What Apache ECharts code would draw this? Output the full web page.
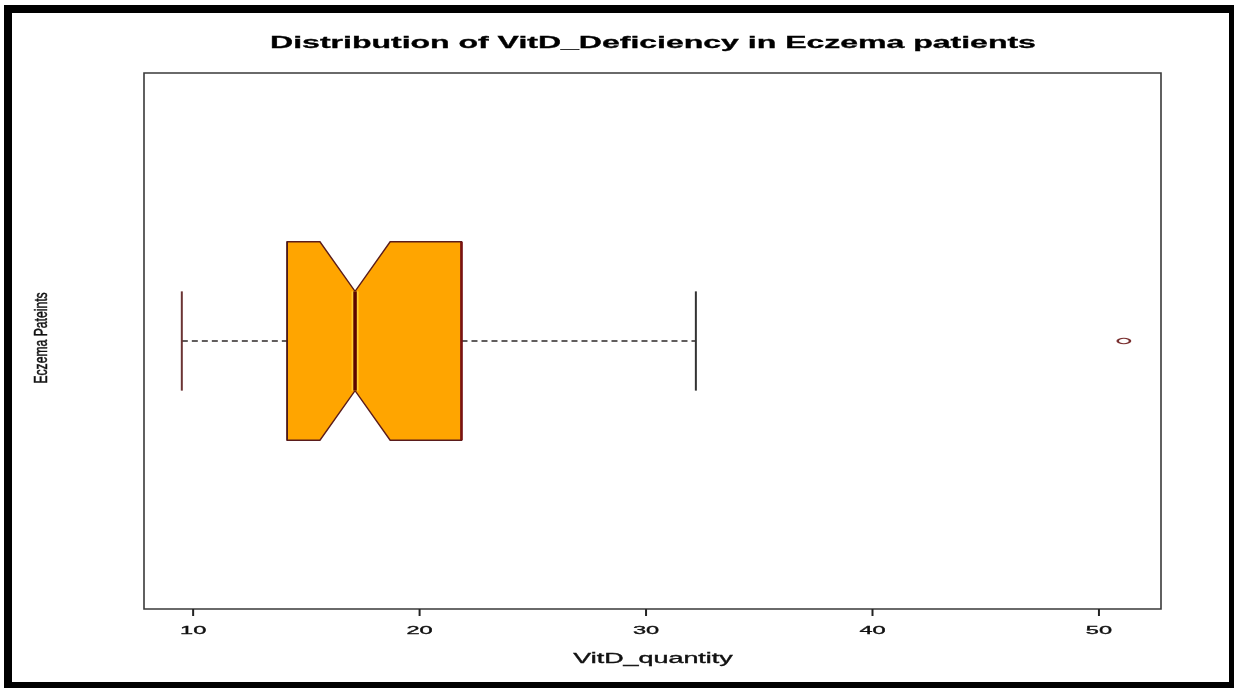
<!DOCTYPE html>
<html>
<head>
<meta charset="utf-8">
<title>Distribution of VitD_Deficiency in Eczema patients</title>
<script src="https://cdn.jsdelivr.net/npm/echarts@6/dist/echarts.min.js"></script>
<style>
  html, body { margin: 0; padding: 0; background: #ffffff; }
  #main { width: 1234px; height: 688px; }
</style>
</head>
<body>
<div id="main"></div>
<script>
// ---- data ----
const categories = ['Eczema Pateints'];
// five-number summary: lower whisker, Q1, median, Q3, upper whisker
const boxLow = [9.5];
const boxQ1 = [14.15];
const boxMedian = [17.15];
const boxQ3 = [21.85];
const boxHigh = [32.2];
// notch bounds around the median
const notchLow = [15.6];
const notchHigh = [18.7];
// values beyond the whiskers
const outlierValues = [51.1];
// x-axis tick labels
const tickValues = [10, 20, 30, 40, 50];

const titleText = 'Distribution of VitD_Deficiency in Eczema patients';
const xName = 'VitD_quantity';

// ---- build series data ----
const boxData = categories.map((c, i) => [i + 1, boxLow[i], boxQ1[i], notchLow[i], boxMedian[i], notchHigh[i], boxQ3[i], boxHigh[i]]);
const outlierData = outlierValues.map(v => [v, 1]);
const tickData = tickValues.map(v => [v]);

const BOX_HALF = 0.2, NOTCH_HALF = 0.1, CAP_HALF = 0.1;
const Y_MIN = 0.46, Y_MAX = 1.54;

function renderBox(params, api) {
  const y = api.value(0);
  const lo = api.value(1), q1 = api.value(2), nLo = api.value(3), med = api.value(4),
        nHi = api.value(5), q3 = api.value(6), hi = api.value(7);
  const c = (v, dy) => api.coord([v, y + dy]);
  const poly = [
    c(q1, -BOX_HALF), c(nLo, -BOX_HALF), c(med, -NOTCH_HALF), c(nHi, -BOX_HALF), c(q3, -BOX_HALF),
    c(q3, BOX_HALF), c(nHi, BOX_HALF), c(med, NOTCH_HALF), c(nLo, BOX_HALF), c(q1, BOX_HALF)
  ];
  const line = (a, b, style) => ({ type: 'line', shape: { x1: a[0], y1: a[1], x2: b[0], y2: b[1] }, style: style });
  const dashStyle = { stroke: '#2e2828', lineWidth: 1.3, lineDash: [6, 4] };
  return {
    type: 'group',
    children: [
      line(c(lo, 0), c(q1, 0), dashStyle),
      line(c(q3, 0), c(hi, 0), dashStyle),
      line(c(lo, -CAP_HALF), c(lo, CAP_HALF), { stroke: '#6b3434', lineWidth: 2 }),
      line(c(hi, -CAP_HALF), c(hi, CAP_HALF), { stroke: '#333333', lineWidth: 2 }),
      { type: 'polygon', shape: { points: poly }, style: { fill: '#FFA500', stroke: '#5a1c1c', lineWidth: 1.4 } },
      line(c(q1, -BOX_HALF), c(q1, BOX_HALF), { stroke: '#4a1a1a', lineWidth: 1.6 }),
      line(c(q3, -BOX_HALF), c(q3, BOX_HALF), { stroke: '#7a1212', lineWidth: 2.6 }),
      line(c(med, -NOTCH_HALF), c(med, NOTCH_HALF), { stroke: '#ffcf33', lineWidth: 7 }),
      line(c(med, -NOTCH_HALF), c(med, NOTCH_HALF), { stroke: '#5a0500', lineWidth: 3.5 })
    ]
  };
}

function renderOutlier(params, api) {
  const p = api.coord([api.value(0), api.value(1)]);
  return {
    type: 'circle', x: p[0], y: p[1], scaleX: 2.3,
    shape: { cx: 0, cy: 0, r: 2.7 },
    style: { fill: 'none', stroke: '#7a3030', lineWidth: 1.1 }
  };
}

function renderTick(params, api) {
  const p = api.coord([api.value(0), Y_MIN]);
  return {
    type: 'group',
    children: [
      { type: 'line', shape: { x1: p[0], y1: p[1], x2: p[0], y2: p[1] + 7 }, style: { stroke: '#222', lineWidth: 2 } },
      { type: 'text', x: p[0], y: p[1] + 22, scaleX: 2.05,
        style: { text: String(api.value(0)), font: '11.5px "Liberation Sans", Arial, sans-serif', fill: '#111',
                 stroke: '#111', lineWidth: 0.35,
                 align: 'center', verticalAlign: 'middle', textAlign: 'center', textVerticalAlign: 'middle' } }
    ]
  };
}

const chart = echarts.init(document.getElementById('main'));
chart.setOption({
  backgroundColor: '#ffffff',
  animation: false,
  grid: { left: 144, top: 73, width: 1017, height: 536, show: true, borderColor: '#3a3a3a', borderWidth: 1.6 },
  xAxis: {
    type: 'value', min: 7.83, max: 52.74,
    axisLine: { show: false }, axisTick: { show: false }, axisLabel: { show: false }, splitLine: { show: false }
  },
  yAxis: {
    type: 'value', min: Y_MIN, max: Y_MAX, show: false, splitLine: { show: false }
  },
  series: [
    { type: 'custom', name: 'box', data: boxData, renderItem: renderBox, clip: false, z: 2 },
    { type: 'custom', name: 'outliers', data: outlierData, renderItem: renderOutlier, clip: false, z: 3 },
    { type: 'custom', name: 'ticks', data: tickData, renderItem: renderTick, clip: false, z: 3 }
  ],
  graphic: [
    { type: 'text', x: 653, y: 44, scaleX: 2.0,
      style: { text: titleText, font: 'bold 16px "Liberation Sans", Arial, sans-serif', fill: '#000',
               stroke: '#000', lineWidth: 0.3,
               align: 'center', verticalAlign: 'middle', textAlign: 'center', textVerticalAlign: 'middle' } },
    { type: 'text', x: 653, y: 659, scaleX: 1.92,
      style: { text: xName, font: '14px "Liberation Sans", Arial, sans-serif', fill: '#111',
               stroke: '#111', lineWidth: 0.35,
               align: 'center', verticalAlign: 'middle', textAlign: 'center', textVerticalAlign: 'middle' } },
    { type: 'text', x: 42, y: 338, rotation: Math.PI / 2, scaleX: 0.64,
      style: { text: categories[0], font: '19px "Liberation Sans", Arial, sans-serif', fill: '#111',
               stroke: '#111', lineWidth: 0.5,
               align: 'center', verticalAlign: 'middle', textAlign: 'center', textVerticalAlign: 'middle' } },
    { type: 'rect', z: 100, shape: { x: 8, y: 9, width: 1225, height: 677 },
      style: { fill: 'none', stroke: '#000000', lineWidth: 8 } }
  ]
});
</script>
</body>
</html>
